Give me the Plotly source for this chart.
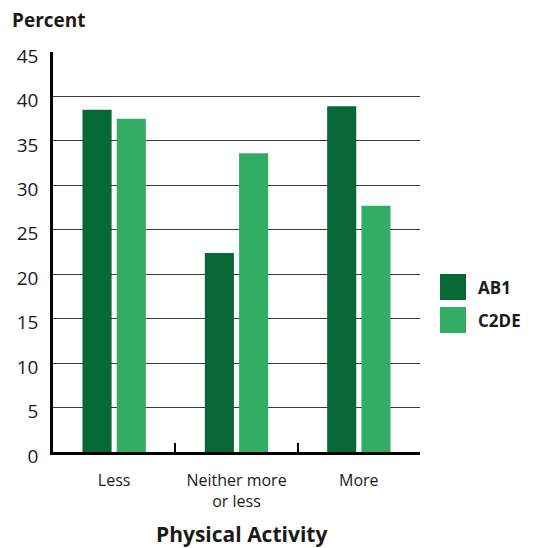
import plotly.graph_objects as go

categories = ["Less", "Neither more<br>or less", "More"]
series_names = ["AB1", "C2DE"]
ab1_values = [38.5, 22.4, 38.9]
c2de_values = [37.5, 33.6, 27.7]
y_ticks = [0, 5, 10, 15, 20, 25, 30, 35, 40, 45]
colors = ["#076836", "#32AD63"]

FONT = "'Open Sans', sans-serif"
TXT = "#1a1a1a"

# page is offset by the default 8px body margin
OFF = 8
PW, PH = 534, 548
W, H = PW - OFF, PH - OFF
L, R, T, B = 53 - OFF, PW - 420, 52 - OFF, PH - 452
YMAX = 45
px_per_unit = (452 - 52) / YMAX
px_per_cat = (420 - 53) / 3


def cat_x(px):
    return -0.5 + (px - 53) / px_per_cat


fig = go.Figure()
for name, vals, col in zip(series_names, [ab1_values, c2de_values], colors):
    fig.add_trace(go.Bar(x=categories, y=vals, name=name, marker_color=col,
                         marker_line_width=0, showlegend=False))

fig.update_layout(
    width=W, height=H,
    margin=dict(l=L, r=R, t=T, b=B, autoexpand=False),
    paper_bgcolor="white", plot_bgcolor="white",
    barmode="group", bargap=0.44, bargroupgap=0.15,
    font=dict(family=FONT, color=TXT),
    showlegend=False,
    xaxis=dict(
        showgrid=False, showline=True, linecolor="black", linewidth=2.5,
        ticks="inside", tickson="boundaries", ticklen=9, tickwidth=1.5, tickcolor="black",
        tickfont=dict(size=16, color=TXT, family=FONT),
        ticklabelstandoff=12, automargin=False, range=[-0.5, 2.5],
    ),
    yaxis=dict(
        range=[0, YMAX], tickvals=y_ticks, showgrid=True, gridcolor="#3a3a3a", gridwidth=1,
        showline=True, linecolor="black", linewidth=2.5, zeroline=False,
        ticks="", ticklabelstandoff=8, ticklabelshift=4, automargin=False,
        tickfont=dict(size=19, color=TXT, family=FONT),
    ),
)

# Titles (axis-referenced with pixel shifts so they never push margins)
fig.add_annotation(text="<b>Percent</b>", xref="x", yref="y",
                   x=-0.5, y=YMAX, xshift=10 - 53, yshift=52 - 20,
                   xanchor="left", yanchor="middle", showarrow=False,
                   font=dict(size=19, color=TXT, family=FONT))
fig.add_annotation(text="<b>Physical Activity</b>", xref="x", yref="y",
                   x=cat_x(241), y=0, yshift=-(534 - 452),
                   xanchor="center", yanchor="middle", showarrow=False,
                   font=dict(size=21, color=TXT, family=FONT))

# Manual legend
for i, (name, col) in enumerate(zip(series_names, colors)):
    cy = 287 + i * 33
    fig.add_shape(type="rect", xref="paper", yref="y",
                  x0=1 + (440 - 420) / (420 - 53), x1=1 + (466 - 420) / (420 - 53),
                  y0=(452 - (cy + 13)) / px_per_unit, y1=(452 - (cy - 13)) / px_per_unit,
                  fillcolor=col, line_width=0)
    fig.add_annotation(text="<b>" + name + "</b>", xref="x", yref="y",
                       x=2.5, xshift=476 - 420, y=(452 - cy) / px_per_unit,
                       xanchor="left", yanchor="middle", showarrow=False,
                       font=dict(size=17, color=TXT, family=FONT))

fig.write_html("out.html")
